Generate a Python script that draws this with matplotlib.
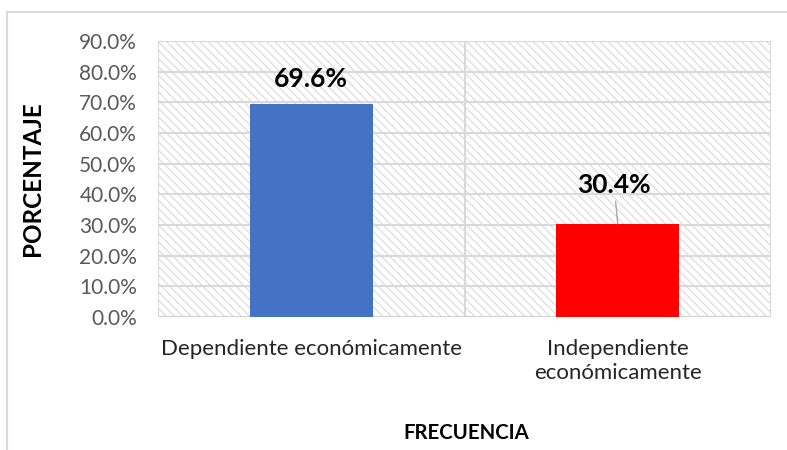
import matplotlib.pyplot as plt
from matplotlib.patches import Rectangle
from matplotlib.lines import Line2D
from matplotlib.ticker import FuncFormatter, MultipleLocator

categorias = ["Dependiente económicamente", "Independiente\neconómicamente"]
porcentajes = [69.6, 30.4]
colores = ["#4472C4", "#FF0000"]

plt.rcParams['font.family'] = ['Lato', 'DejaVu Sans']
plt.rcParams['hatch.linewidth'] = 0.8
plt.rcParams['hatch.color'] = '#dadada'

W, H = 787, 450
fig = plt.figure(figsize=(W / 100, H / 100), dpi=100)
ax = fig.add_axes([158 / W, 1 - 317 / H, (771 - 158) / W, (317 - 41) / H])

# borde del grafico
fig.add_artist(Line2D([7 / W, 7 / W], [0, 1 - 12 / H], color='#d9d9d9', lw=1.5))
fig.add_artist(Line2D([7 / W, 1], [1 - 12 / H, 1 - 12 / H], color='#d9d9d9', lw=1.5))

x = list(range(len(categorias)))
ax.set_xlim(-0.5, 1.5)
ax.set_ylim(0, 90)

# fondo rayado
ax.add_patch(Rectangle((-0.5, 0), 2, 90, facecolor='white', edgecolor='#dadada',
                       hatch='\\\\\\\\', lw=0, zorder=0))
for yv in range(10, 91, 10):
    ax.axhline(yv, color='#d9d9d9', lw=1.5, zorder=1)
for xv in [-0.5, 0.5, 1.5]:
    ax.axvline(xv, color='#d9d9d9', lw=1.5, zorder=1)
ax.axhline(0, color='#d0d0d0', lw=1.5, zorder=1)

ax.bar(x, porcentajes, width=0.4, color=colores, zorder=3)

ax.annotate(f"{porcentajes[0]:.1f}%", (0, porcentajes[0]), xytext=(0, 18),
            textcoords='offset points', ha='center', va='center',
            fontsize=19, fontweight='bold')
ax.annotate(f"{porcentajes[1]:.1f}%", (1, porcentajes[1]), xytext=(0.988, porcentajes[1] + 12.6),
            ha='center', va='center', fontsize=19, fontweight='bold',
            arrowprops=dict(arrowstyle='-', color='#a6a6a6', lw=1, shrinkA=1, shrinkB=0))

for s in ax.spines.values():
    s.set_visible(False)

ax.yaxis.set_major_locator(MultipleLocator(10))
ax.yaxis.set_major_formatter(FuncFormatter(lambda v, p: f"{v:.1f}%"))
ax.set_xticks(x)
ax.set_xticklabels(categorias, fontsize=16, color='#262626', linespacing=1.22, va='top')
ax.tick_params(axis='y', labelsize=15, labelcolor='#595959', length=0, pad=15)
ax.tick_params(axis='x', length=0, pad=16)

ax.set_ylabel("PORCENTAJE", fontsize=17.5, fontweight='bold')
ax.yaxis.set_label_coords(-(158 - 44) / (771 - 158), 0.5)
fig.text(0.5 * (158 + 771) / W + 0.002, 1 - 433 / H, "FRECUENCIA", ha='center', va='center',
         fontsize=14.7, fontweight='bold')

fig.savefig("out.png", dpi=100)
